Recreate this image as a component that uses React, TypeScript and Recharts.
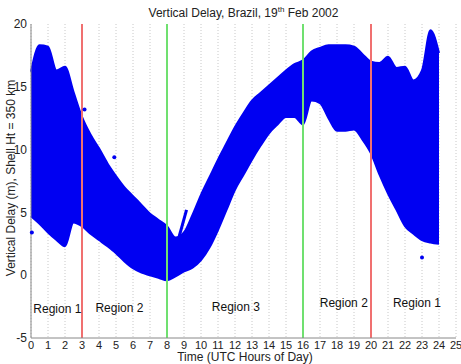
import React from "react";
import {
  ComposedChart,
  Area,
  Line,
  Scatter,
  XAxis,
  YAxis,
  CartesianGrid,
  ReferenceLine,
  ReferenceDot,
} from "recharts";

// hours of day, sampled every half hour
const hours = [
  0, 0.5, 1, 1.5, 2, 2.5, 3, 3.5, 4, 4.5, 5, 5.5, 6, 6.5, 7, 7.5, 8, 8.5, 9, 9.5, 10, 10.5, 11, 11.5, 12,
  12.5, 13, 13.5, 14, 14.5, 15, 15.5, 16, 16.5, 17, 17.5, 18, 18.5, 19, 19.5, 20, 20.5, 21, 21.5, 22,
  22.5, 23, 23.5, 24,
];

// upper edge of all the delay tracks (m)
const delayHigh = [
  16.2, 18.3, 18.2, 16.3, 16.6, 14.6, 12.6, 11.2, 10.1, 8.9, 7.9, 7.0, 6.3, 5.6, 4.9, 4.4, 3.9, 3.0, 3.4,
  4.8, 6.4, 7.8, 9.2, 10.5, 11.8, 12.9, 13.9, 14.5, 15.1, 15.7, 16.3, 16.8, 17.1, 17.8, 18.1, 18.3, 18.3,
  18.3, 18.2, 17.6, 17.0, 16.9, 17.4, 16.5, 16.6, 15.5, 16.3, 19.5, 17.7,
];

// lower edge of all the delay tracks (m)
const delayLow = [
  4.7, 4.1, 3.4, 2.8, 2.3, 4.2, 3.9, 3.3, 2.8, 2.3, 1.75, 1.1, 0.55, 0.2, 0.0, -0.2, -0.4, -0.1, 0.3, 0.6,
  1.2, 2.2, 3.6, 5.2, 6.8, 8.0, 9.2, 10.3, 11.3, 12.0, 12.6, 12.6, 12.0, 13.9, 13.7, 12.5, 11.5, 11.5, 11.6,
  10.8, 9.7, 8.0, 6.5, 5.2, 3.9, 3.3, 2.8, 2.6, 2.5,
];

// short track leaving the band just after 08 UT
const strandHours = [8.7, 9.15];
const strandDelays = [3.0, 5.2];

// lone samples away from the band
const strayHours = [0.05, 3.15, 4.9, 23.0];
const strayDelays = [3.4, 13.2, 9.4, 1.4];

const xTicks = [0, 1, 2, 3, 4, 5, 6, 7, 8, 9, 10, 11, 12, 13, 14, 15, 16, 17, 18, 19, 20, 21, 22, 23, 24, 25];
const yTicks = [-5, 0, 5, 10, 15, 20];

// region boundaries
const redHours = [3, 20];
const greenHours = [8, 16];

const regionNames = ["Region 1", "Region 2", "Region 3", "Region 2", "Region 1"];
const regionHours = [1.55, 5.2, 12.05, 18.4, 22.7];
const regionLevels = [-2.7, -2.6, -2.5, -2.2, -2.2];

const data = hours.map((t, i) => ({ t, band: [delayLow[i], delayHigh[i]] }));
const strand = strandHours.map((t, i) => ({ t, v: strandDelays[i] }));
const strays = strayHours.map((t, i) => ({ t, v: strayDelays[i] }));

const FONT = "'Liberation Sans', Arial, sans-serif";
const BLUE = "#0000f2";

const Dot = (p: any) => <circle cx={p.cx} cy={p.cy} r={2} fill={BLUE} />;

export default function App() {
  return (
    <div style={{ position: "absolute", left: 0, top: 0, width: 461, height: 364, fontFamily: FONT, background: "#fff" }}>
      <ComposedChart width={461} height={364} data={data} margin={{ top: 24, right: 5, bottom: 0, left: 0 }}>
        <CartesianGrid vertical horizontal={false} stroke="#c8c8c8" strokeDasharray="1 2" />
        <XAxis
          dataKey="t"
          type="number"
          domain={[0, 25]}
          ticks={xTicks}
          interval={0}
          height={26}
          tickLine={false}
          axisLine={{ stroke: "#888" }}
          tick={{ fontSize: 11, fill: "#222", fontFamily: FONT, dy: -5 }}
        />
        <YAxis
          type="number"
          domain={[-5, 20]}
          ticks={yTicks}
          width={31}
          tickLine={false}
          axisLine={{ stroke: "#888" }}
          tick={{ fontSize: 12, fill: "#222", fontFamily: FONT, dx: 4 }}
        />
        <Area
          dataKey="band"
          type="monotone"
          stroke={BLUE}
          strokeWidth={2}
          fill={BLUE}
          fillOpacity={1}
          isAnimationActive={false}
        />
        <Line
          data={strand}
          dataKey="v"
          type="linear"
          stroke={BLUE}
          strokeWidth={3}
          dot={false}
          isAnimationActive={false}
        />
        <Scatter data={strays} dataKey="v" fill={BLUE} shape={Dot} isAnimationActive={false} />
        {redHours.map((h) => (
          <ReferenceLine key={"r" + h} x={h} stroke="#f07070" strokeWidth={2} />
        ))}
        {greenHours.map((h) => (
          <ReferenceLine key={"g" + h} x={h} stroke="#70e070" strokeWidth={2} />
        ))}
        {regionNames.map((name, i) => (
          <ReferenceDot
            key={i}
            x={regionHours[i]}
            y={regionLevels[i]}
            r={0}
            stroke="none"
            label={{ value: name, position: "center", fontSize: 12, fill: "#111", fontFamily: FONT }}
          />
        ))}
      </ComposedChart>
      <div style={{ position: "absolute", left: 0, width: 490, top: 350, textAlign: "center", fontSize: 12, color: "#222" }}>
        Time (UTC Hours of Day)
      </div>
      <div style={{ position: "absolute", left: 0, width: 487, top: 5, textAlign: "center", fontSize: 12, color: "#222" }}>
        Vertical Delay, Brazil, 19<sup style={{ fontSize: 8 }}>th</sup> Feb 2002
      </div>
      <div
        style={{
          position: "absolute",
          left: 11,
          top: 178,
          width: 260,
          textAlign: "center",
          fontSize: 12,
          color: "#222",
          whiteSpace: "nowrap",
          transform: "translate(-50%, -50%) rotate(-90deg)",
        }}
      >
        Vertical Delay (m), Shell Ht = 350 km
      </div>
    </div>
  );
}
